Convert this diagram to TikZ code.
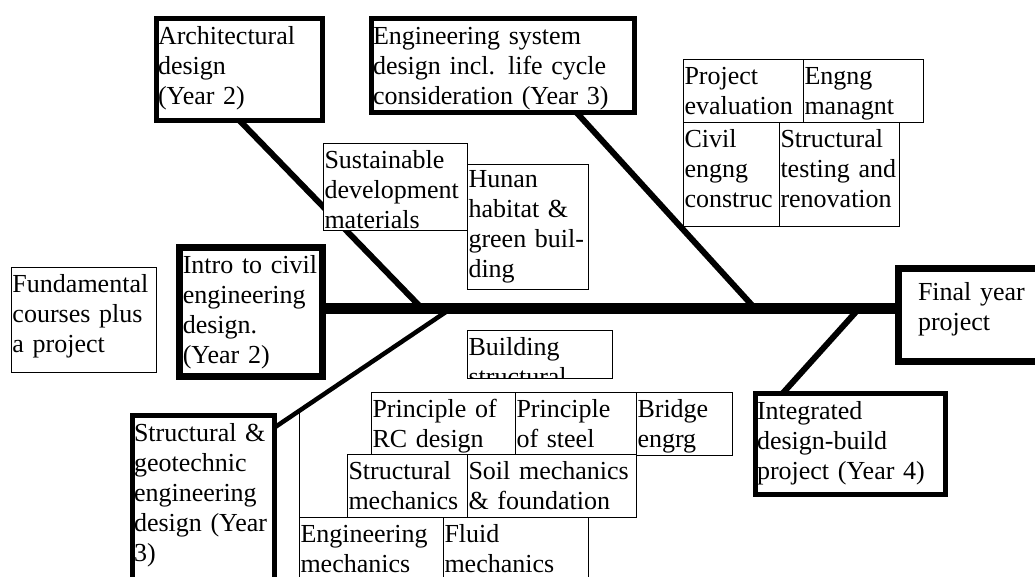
\documentclass[tikz,border=0pt]{standalone}
\usepackage{fontspec}
\setmainfont{Liberation Serif}
\usetikzlibrary{calc}

\newcommand\boxfont{\fontsize{26pt}{30pt}\selectfont}

\tikzset{
  thinbox/.style 2 args={draw, fill=white, line width=1pt, outer sep=0pt,
    inner ysep=0pt, inner xsep=1.5pt, anchor=north west, align=left,
    font=\boxfont, minimum width=#1pt, minimum height=#2pt,
    text width=#1pt-3pt, text height=25pt, text depth=#2pt-25pt},
  thickbox/.style 2 args={thinbox={#1}{#2}, line width=5pt,
    text height=26pt, text depth=#2pt-26pt},
  spine/.style={line width=11pt},
  branch/.style={line width=6pt},
  lowbranch/.style={line width=4.5pt},
}

\begin{document}
\begin{tikzpicture}[x=1pt,y=-1pt]
		
		\useasboundingbox (0,0) rectangle (1035,576);
		\clip (0,0) rectangle (1035,576);
		
		\coordinate (sp) at (0,308.5);
		\coordinate (archfoot) at (422,308.5);
		\coordinate (esfoot) at (755,308.5);
		\coordinate (geofoot) at (451,308.5);
		\coordinate (intfoot) at (859,308.5);
		\coordinate (stub) at (299,413);
		
		% main boxes on the spine
		\node[thickbox={143.4}{129.4}, line width=6.5pt, inner xsep=3.5pt,
		text width=136.4pt] (intro) at (179.3,247.3)
		{Intro to civil\\engineering\\design.\\(Year 2)};
		\node[thickbox={200}{93.5}, line width=7pt, inner xsep=19.5pt,
		text width=161pt, text height=32pt, text depth=61.5pt] (final) at (898.5,268)
		{Final year\\project};
		
		\node[thickbox={166}{102}] (arch) at (156.5,18.5) {Architectural\\design\\(Year 2)};
		\node[thickbox={263}{94}] (engsys) at (371.5,18.5)
		{Engineering system\\design incl. life cycle\\consideration (Year 3)};
		\node[thickbox={142}{200}] (geo) at (132.5,415.5)
		{Structural \&\\geotechnic\\engineering\\design (Year\\3)};
		\node[thickbox={190}{101}] (integ) at (755.5,393.5)
		{Integrated\\design-build\\project (Year 4)};
		
		% spine and branches
		\draw[spine] (intro.east |- sp) -- (final.west |- sp);
		\draw[branch] (arch.south) -- (archfoot);
		\draw[branch] ($(engsys.south west)+(205,0)$) -- (esfoot);
		\draw[lowbranch] ($(geo.north east)+(0,12)$) -- (geofoot);
		\draw[branch] ($(integ.north west)+(27,0)$) -- (intfoot);
		
		\node[thinbox={145}{105}] (fund) at (11,267) {Fundamental\\courses plus\\a project};
		
		% courses, upper side
		\node[thinbox={144}{87}] (sust) at (323,143) {Sustainable\\development\\materials};
		\node[thinbox={121}{125}, text height=23pt, text depth=102pt] (hunan) at (467,164)
		{Hunan\\habitat \&\\green buil-\\ding};
		
		\node[thinbox={120}{63}] (projev) at (683,59) {Project\\evaluation};
		\node[thinbox={120}{63}] (mgmt) at (803,59) {Engng\\managnt};
		\node[thinbox={96}{104}] (civil) at (683,122) {Civil\\engng\\construc};
		\node[thinbox={120}{104}] (testing) at (779,122) {Structural\\testing and\\renovation};
		
		% courses, lower side
		\begin{scope}
		\clip (466,329) rectangle (613,378.5);
		\node[thinbox={145}{48}] (bldg) at (467,330) {Building\\structural};
		\end{scope}
		
		\draw[line width=1pt] (stub) -- (299,520);
		
		\node[thinbox={144}{62}] (rc) at (371,392) {Principle of\\RC design};
		\node[thinbox={121}{62}] (steel) at (515,392) {Principle\\of steel};
		\node[thinbox={96}{63}] (bridge) at (636,392) {Bridge\\engrg};
		
		\node[thinbox={120}{63}] (smech) at (347,454) {Structural\\mechanics};
		\node[thinbox={169}{63}] (soil) at (467,454) {Soil mechanics\\\& foundation};
		
		\node[thinbox={144}{80}] (emech) at (299,517) {Engineering\\mechanics};
		\node[thinbox={145}{80}] (fluid) at (443,517) {Fluid\\mechanics};
		
\end{tikzpicture}
\end{document}
